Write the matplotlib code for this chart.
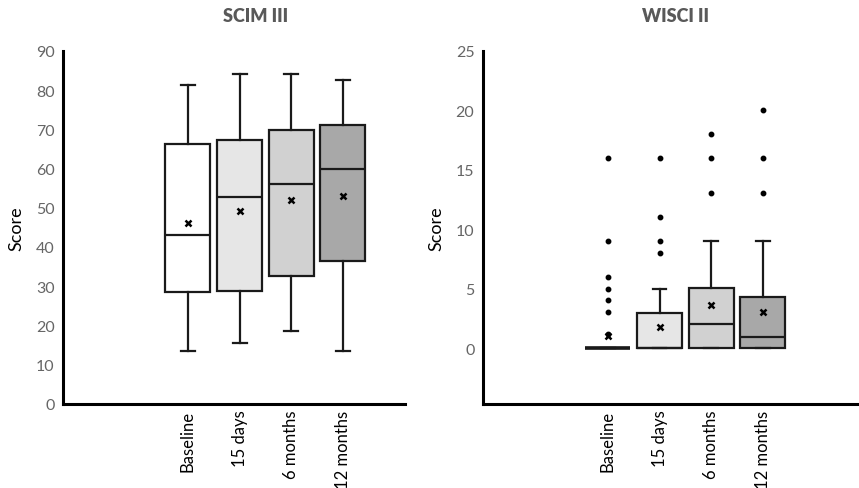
import matplotlib
matplotlib.use("Agg")
import matplotlib.pyplot as plt

plt.rcParams["font.family"] = ["Lato", "DejaVu Sans"]

groups = ["Baseline", "15 days", "6 months", "12 months"]
fills = ["#ffffff", "#e6e6e6", "#d1d1d1", "#a8a8a8"]

# SCIM III
scim_low = [13.5, 15.5, 18.5, 13.5]
scim_q1 = [28.5, 28.7, 32.7, 36.5]
scim_med = [43, 52.8, 56, 59.8]
scim_q3 = [66.2, 67.3, 69.8, 71.2]
scim_high = [81.2, 84, 84, 82.5]
scim_mean = [46.1, 49.2, 52, 53.1]
scim_out = [[], [], [], []]

# WISCI II
wisci_low = [0, 0, 0, 0]
wisci_q1 = [0, 0, 0, 0]
wisci_med = [0, 0, 2, 0.95]
wisci_q3 = [0, 2.95, 5.05, 4.25]
wisci_high = [0, 5, 9, 9]
wisci_mean = [1.0, 1.75, 3.6, 3.0]
wisci_out = [[16, 9, 6, 5, 4, 3, 1.2], [16, 11, 9, 8], [18, 16, 13], [20, 16, 13]]


def make_stats(low, q1, med, q3, high, mean, out):
    stats = []
    for i in range(len(groups)):
        stats.append({
            "whislo": low[i], "q1": q1[i], "med": med[i], "q3": q3[i],
            "whishi": high[i], "mean": mean[i], "fliers": out[i], "label": groups[i],
        })
    return stats


def draw(ax, stats, ylim, yticks, title, title_x):
    pos = list(range(1, len(groups) + 1))
    edge = "#1a1a1a"
    bp = ax.bxp(
        stats, positions=pos, widths=0.87, capwidths=0.27, patch_artist=True,
        showmeans=True, showfliers=True,
        boxprops=dict(edgecolor=edge, linewidth=1.6),
        whiskerprops=dict(color=edge, linewidth=1.6),
        capprops=dict(color=edge, linewidth=1.6),
        medianprops=dict(color=edge, linewidth=1.6),
        meanprops=dict(marker="x", markeredgecolor="black", markersize=5, markeredgewidth=1.8),
        flierprops=dict(marker="o", markerfacecolor="black", markeredgecolor="black", markersize=3.2),
    )
    for patch, c, s in zip(bp["boxes"], fills, stats):
        patch.set_facecolor(c)
        if s["q1"] == s["q3"]:
            # flat box shows up as a heavy line
            patch.set_linewidth(2.6)
    ax.set_ylim(*ylim)
    ax.set_yticks(yticks)
    ax.set_xticks(pos)
    ax.set_xticklabels(groups, rotation=90, fontsize=12, va="top")
    for spine in ["top", "right"]:
        ax.spines[spine].set_visible(False)
    for spine in ["left", "bottom"]:
        ax.spines[spine].set_linewidth(2.2)
        ax.spines[spine].set_color("black")
    ax.tick_params(axis="both", length=0)
    ax.tick_params(axis="y", labelsize=11.5, labelcolor="#666666", pad=6)
    ax.tick_params(axis="x", pad=4)
    ax.set_ylabel("Score", fontsize=13, labelpad=8)
    ax.text(title_x, 1.1, title, transform=ax.transAxes, ha="center", va="center",
            fontsize=13, fontweight="heavy", color="#595959")


fig = plt.figure(figsize=(8.59, 4.89), dpi=100)
ax1 = fig.add_axes([0.0733, 0.172, 0.398, 0.722])
ax2 = fig.add_axes([0.562, 0.172, 0.438, 0.722])

draw(ax1, make_stats(scim_low, scim_q1, scim_med, scim_q3, scim_high, scim_mean, scim_out),
     (0, 90), range(0, 91, 10), "SCIM III", 0.564)
ax1.set_xlim(-1.42, 5.2)

draw(ax2, make_stats(wisci_low, wisci_q1, wisci_med, wisci_q3, wisci_high, wisci_mean, wisci_out),
     (-4.7, 25), range(0, 26, 5), "WISCI II", 0.513)
ax2.set_xlim(-1.42, 5.86)

fig.savefig("out.png", dpi=100)
